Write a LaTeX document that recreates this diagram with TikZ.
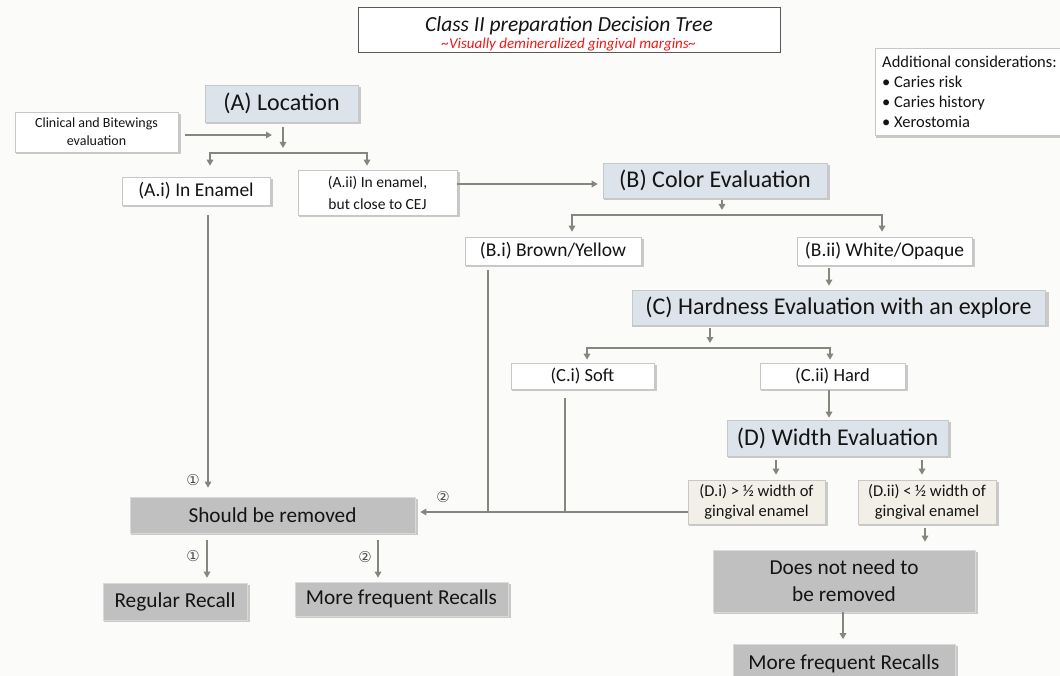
\documentclass[tikz,border=0pt]{standalone}
\usepackage{fontspec}
\setmainfont{Carlito}
\newfontfamily\symfont{DejaVu Sans}
\usetikzlibrary{arrows.meta,shadows}
\definecolor{ln}{HTML}{86867E}
\definecolor{hdr}{HTML}{DCE3EA}
\definecolor{gbox}{HTML}{C0C0C0}
\definecolor{beige}{HTML}{F2EFE6}
\definecolor{txt}{HTML}{141414}
\definecolor{bg}{HTML}{FBFBF9}
\definecolor{redt}{HTML}{F01818}
\begin{document}
\begin{tikzpicture}[x=1pt,y=-1pt,
  base/.style={draw=black!22, line width=0.6pt, text=txt, align=center, inner sep=0pt,
    drop shadow={opacity=0.4, shadow xshift=2pt, shadow yshift=-2pt, shadow scale=1.01}},
  hdrbox/.style={base, fill=hdr, font=\fontsize{24}{27}\selectfont},
  subbox/.style={base, fill=white, font=\fontsize{19.5}{22}\selectfont},
  smallbox/.style={base, fill=white, font=\fontsize{15.5}{22}\selectfont},
  dbox/.style={base, fill=beige, font=\fontsize{16.5}{20}\selectfont},
  graybox/.style={base, fill=gbox, draw=black!15, font=\fontsize{21.3}{27}\selectfont},
  conn/.style={draw=ln, line width=2pt},
  arr/.style={conn, -{Triangle[length=6pt,width=6.5pt]}},
  num/.style={font=\symfont\fontsize{15}{15}\selectfont, text=black!70, inner sep=0pt},
]
\fill[bg] (0,0) rectangle (1060,676);
\useasboundingbox (0,0) rectangle (1060,676);

% title
\node[draw=black!65, line width=0.7pt, fill=white, minimum width=422pt, minimum height=45pt, inner sep=0pt] (title) at (569,29.5) {};
\node[font=\itshape\fontsize{21.5}{24}\selectfont, text=txt, inner sep=0pt] (t1) at (569,25.5) {Class II preparation Decision Tree};
\node[font=\itshape\fontsize{15}{16}\selectfont, text=redt, inner sep=0pt] (t2) at (569,44.5) {\char"007EVisually demineralized gingival margins\char"007E};

% additional considerations
\node[base, fill=white, anchor=north west, minimum width=195pt, minimum height=87pt] (add) at (875,48) {};
\node[anchor=north west, align=left, text=txt, font=\fontsize{16.5}{20}\selectfont, inner sep=0pt] (addt) at (882,56)
  {Additional considerations:\\\textbullet\ Caries risk\\\textbullet\ Caries history\\\textbullet\ Xerostomia};

% nodes
\node[hdrbox, minimum width=153pt, minimum height=37pt] (A) at (281.5,103.5) {(A) Location};
\node[base, fill=white, font=\fontsize{14}{18}\selectfont, minimum width=163pt, minimum height=40pt] (clin) at (96.5,132) {Clinical and Bitewings\\evaluation};
\node[subbox, minimum width=148pt, minimum height=28pt] (Ai) at (196,191) {(A.i) In Enamel};
\node[smallbox, minimum width=159pt, minimum height=45pt] (Aii) at (377.5,192.5) {(A.ii) In enamel,\\but close to CEJ};
\node[hdrbox, minimum width=224pt, minimum height=35pt] (B) at (715,180.5) {(B) Color Evaluation};
\node[subbox, minimum width=176pt, minimum height=28pt] (Bi) at (553,251) {(B.i) Brown/Yellow};
\node[subbox, minimum width=175pt, minimum height=28pt] (Bii) at (884.5,251) {(B.ii) White/Opaque};
\node[hdrbox, minimum width=413pt, minimum height=35pt] (C) at (838.5,307.5) {(C) Hardness Evaluation with an explore};
\node[subbox, font=\fontsize{18.5}{22}\selectfont, minimum width=143pt, minimum height=26pt] (Ci) at (582.5,376) {(C.i) Soft};
\node[subbox, font=\fontsize{18.5}{22}\selectfont, minimum width=145pt, minimum height=26pt] (Cii) at (832.5,376) {(C.ii) Hard};
\node[hdrbox, minimum width=221pt, minimum height=36pt] (D) at (837.5,438) {(D) Width Evaluation};
\node[dbox, minimum width=137pt, minimum height=44pt] (Di) at (756.5,502) {(D.i) > ½ width of\\gingival enamel};
\node[dbox, minimum width=138pt, minimum height=44pt] (Dii) at (927,502) {(D.ii) < ½ width of\\gingival enamel};
\node[graybox, minimum width=262pt, minimum height=62pt] (notneed) at (844,581) {Does not need to\\be removed};
\node[graybox, minimum width=222pt, minimum height=45pt, text depth=10pt] (mfr2) at (844,667) {More frequent Recalls};
\node[graybox, minimum width=285pt, minimum height=36pt] (should) at (272.5,515) {Should be removed};
\node[graybox, minimum width=144pt, minimum height=37pt] (reg) at (175,601.5) {Regular Recall};
\node[graybox, minimum width=213pt, minimum height=34pt] (mfr1) at (401.5,599) {More frequent Recalls};

% helper coordinates
\coordinate (jin) at (272,135);
\coordinate (jA) at (283,153);
\coordinate (jAl) at (210,153);
\coordinate (jAr) at (367,153);
\coordinate (yAB) at (0,184);
\coordinate (jB) at (722,215);
\coordinate (jBl) at (572,215);
\coordinate (jBr) at (882,215);
\coordinate (xBC) at (829,0);
\coordinate (jC) at (710,348);
\coordinate (jCl) at (587,348);
\coordinate (jCr) at (830,348);
\coordinate (xDi) at (776,0);
\coordinate (xDii) at (922,0);
\coordinate (xDn) at (925,0);
\coordinate (xNf) at (843,0);
\coordinate (xAi) at (208,0);
\coordinate (xR1) at (207,0);
\coordinate (xR2) at (378,0);
\coordinate (xBi) at (488,0);
\coordinate (xCi) at (565,0);
\coordinate (yR) at (0,512);
\coordinate (yclin) at (0,135);

% connectors
\draw[arr, shorten <=7pt] (clin.east |- yclin) -- (jin);
\draw[arr, shorten <=5pt, shorten >=5pt] (jA |- A.south) -- (jA);
\draw[arr, shorten >=11pt] (jA) -| (jAl |- Ai.north);
\draw[arr, shorten >=4pt] (jA) -| (jAr |- Aii.north);
\draw[arr, shorten >=5pt] (Aii.east |- yAB) -- (B.west |- yAB);
\draw[arr, shorten <=2pt, shorten >=5pt] (jB |- B.south) -- (jB);
\draw[arr, shorten >=5pt] (jB) -| (jBl |- Bi.north);
\draw[arr, shorten >=5pt] (jB) -| (jBr |- Bii.north);
\draw[arr, shorten <=3pt, shorten >=4pt] (xBC |- Bii.south) -- (xBC |- C.north);
\draw[arr, shorten <=3pt, shorten >=5pt] (jC |- C.south) -- (jC);
\draw[arr, shorten >=3pt] (jC) -| (jCl |- Ci.north);
\draw[arr, shorten >=3pt] (jC) -| (jCr |- Cii.north);
\draw[arr, shorten <=1pt, shorten >=2pt] (xBC |- Cii.south) -- (xBC |- D.north);
\draw[arr, shorten <=4pt, shorten >=5pt] (xDi |- D.south) -- (xDi |- Di.north);
\draw[arr, shorten <=4pt, shorten >=5pt] (xDii |- D.south) -- (xDii |- Dii.north);
\draw[arr, shorten <=4pt, shorten >=8pt] (xDn |- Dii.south) -- (xDn |- notneed.north);
\draw[arr, shorten >=5pt] (xNf |- notneed.south) -- (xNf |- mfr2.north);
\draw[arr, shorten <=10pt, shorten >=9pt] (xAi |- Ai.south) -- (xAi |- should.north);
\draw[arr, shorten >=5pt] (Di.west |- yR) -- (should.east |- yR);
\draw[conn, shorten <=5pt] (xBi |- Bi.south) -- (xBi |- yR);
\draw[conn, shorten <=9pt] (xCi |- Ci.south) -- (xCi |- yR);
\draw[arr, shorten <=7pt, shorten >=5pt] (xR1 |- should.south) -- (xR1 |- reg.north);
\draw[arr, shorten <=7pt, shorten >=4pt] (xR2 |- should.south) -- (xR2 |- mfr1.north);

% labels
\node[num] (n1) at (193,480) {①};
\node[num] (n2) at (443,497) {②};
\node[num] (n3) at (193,556) {①};
\node[num] (n4) at (365,557) {②};
\end{tikzpicture}
\end{document}
